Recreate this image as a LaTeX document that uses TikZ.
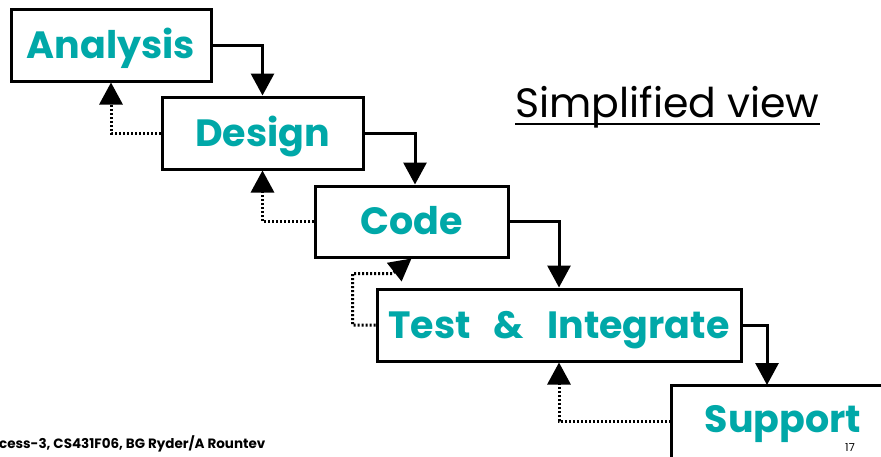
\documentclass[tikz,border=0pt]{standalone}
\usepackage{fontspec}
\setmainfont{Poppins}
\usetikzlibrary{arrows.meta}
\definecolor{tealtext}{RGB}{0,168,168}
\begin{document}
\begin{tikzpicture}[x=1pt,y=-1pt,
  stagebox/.style={draw=black, line width=3pt, fill=white, inner sep=0pt},
  stagetext/.style={text=tealtext, font=\fontsize{38}{42}\selectfont\bfseries, text height=26.6pt, text depth=0pt},
  flow/.style={line width=3pt, -{Triangle[width=23pt,length=22pt]}},
  back/.style={line width=3pt, dash pattern=on 2pt off 2pt, -{Triangle[width=23pt,length=22pt]}}]
\useasboundingbox (0,0) rectangle (881,456);
\begin{scope}
\clip (0,0) rectangle (881,456);
\node[stagebox, stagetext, minimum width=200pt, minimum height=72pt] (analysis) at (111,45) {Analysis};
\node[stagebox, stagetext, minimum width=201pt, minimum height=72pt] (design) at (262.5,133) {Design};
\node[stagebox, stagetext, minimum width=193pt, minimum height=71pt] (code) at (411.5,221.5) {Code};
\node[stagebox, stagetext, minimum width=364pt, minimum height=72pt] (test) at (559,325) {Test\hspace{23pt}\&\hspace{23pt}Integrate};
\node[stagebox, minimum width=250pt, minimum height=100pt] (support) at (796,435) {};
\node[stagetext, inner sep=0pt] (supporttext) at (783,419) {Support};

\draw[flow] (analysis.east) -| (design.north);
\draw[flow] (design.east) -| ([xshift=3.5pt]code.north);
\draw[flow] (code.east) -| (test.north);
\coordinate (sup-in) at (767,385);
\draw[flow] (test.east) -| (sup-in);

\draw[back] (design.west) -| (analysis.south);
\draw[back] (code.west) -| (design.south);
\draw[back] (test.west) -- ++(-23,0) |- ([xshift=-19pt,yshift=-15pt]code.south) -- (code.south);
\coordinate (sup-out) at (671,421);
\draw[back] (sup-out) -| (test.south);

\node[font=\fontsize{41}{46}\selectfont, anchor=base, inner sep=0pt] (title) at (667.5,117) {Simplified view};
\draw[line width=2.5pt] ([yshift=-7pt]title.base west) -- ([yshift=-7pt]title.base east);
\node[font=\fontsize{13.5}{15}\selectfont\bfseries, anchor=base west, inner sep=0pt] (footer) at (-1,448) {cess-3, CS431F06, BG Ryder/A Rountev};
\node[font=\fontsize{11}{13}\selectfont, anchor=base, inner sep=0pt] (pagenum) at (850,451) {17};
\end{scope}
\end{tikzpicture}
\end{document}
